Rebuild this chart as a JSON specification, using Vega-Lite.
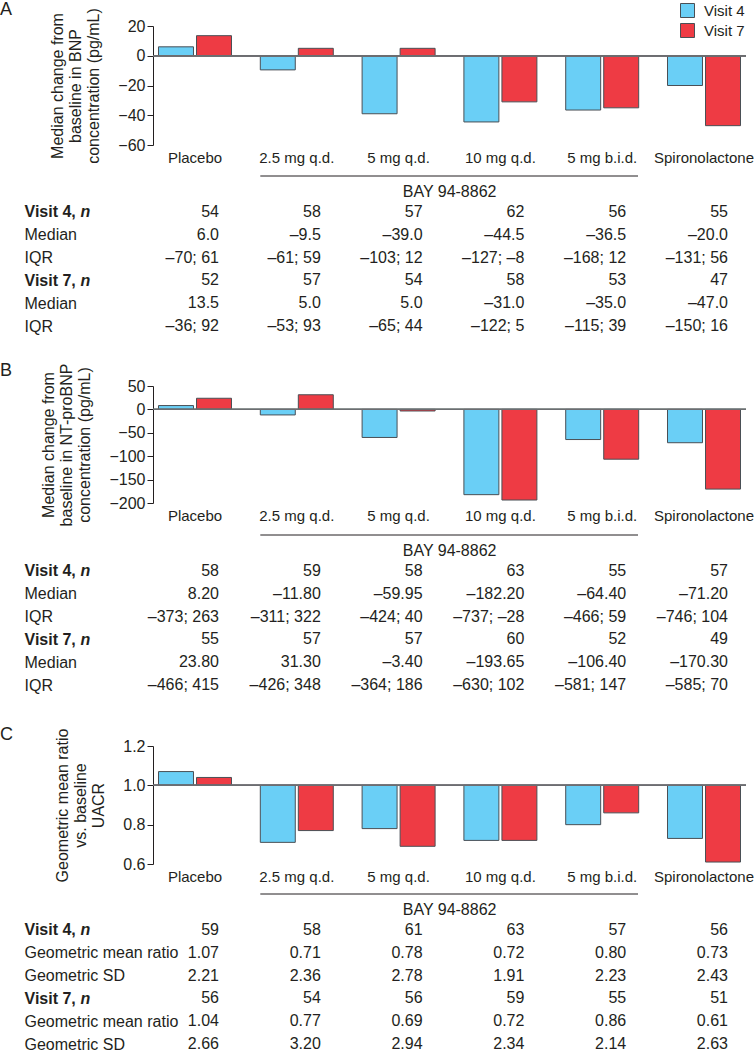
{
  "$schema": "https://vega.github.io/schema/vega-lite/v6.json",
  "padding": {"left": 0, "top": 0, "right": 0, "bottom": 0},
  "config": {
    "font": "Liberation Sans",
    "view": {"stroke": null},
    "axis": {"labelColor": "#231f20", "titleColor": "#231f20", "labelFontSize": 16, "titleFontSize": 16, "titleFontWeight": "normal", "grid": false, "labelOverlap": false, "labelSeparation": 0},
    "axisQuantitative": {"labelOverlap": false},
    "axisY": {"labelOverlap": false},
    "text": {"color": "#231f20", "fontSize": 16},
    "title": {"color": "#231f20", "fontSize": 18, "fontWeight": "normal", "anchor": "start", "frame": "bounds"}
  },
  "spacing": 28,
  "vconcat": [
    {
      "title": {"text": "A", "dx": -24, "offset": -11},
      "bounds": "flush",
      "spacing": 44,
      "vconcat": [
        {
          "width": 593, "height": 119,
          "data": {"values": [
            {"group": "Placebo", "visit": "Visit 4", "value": 6.0},
            {"group": "2.5 mg q.d.", "visit": "Visit 4", "value": -9.5},
            {"group": "5 mg q.d.", "visit": "Visit 4", "value": -39.0},
            {"group": "10 mg q.d.", "visit": "Visit 4", "value": -44.5},
            {"group": "5 mg b.i.d.", "visit": "Visit 4", "value": -36.5},
            {"group": "Spironolactone", "visit": "Visit 4", "value": -20.0},
            {"group": "Placebo", "visit": "Visit 7", "value": 13.5},
            {"group": "2.5 mg q.d.", "visit": "Visit 7", "value": 5.0},
            {"group": "5 mg q.d.", "visit": "Visit 7", "value": 5.0},
            {"group": "10 mg q.d.", "visit": "Visit 7", "value": -31.0},
            {"group": "5 mg b.i.d.", "visit": "Visit 7", "value": -35.0},
            {"group": "Spironolactone", "visit": "Visit 7", "value": -47.0}
          ]},
          "layer": [
            {
              "mark": {"type": "bar", "stroke": "#4a4f55", "strokeWidth": 1},
              "encoding": {
                "x": {"field": "group", "type": "nominal", "scale": {"domain": ["Placebo", "2.5 mg q.d.", "5 mg q.d.", "10 mg q.d.", "5 mg b.i.d.", "Spironolactone"], "paddingInner": 0.283, "paddingOuter": 0.054},
                  "axis": {"title": null, "domain": false, "ticks": false, "tickSize": 0, "labelPadding": 5, "labelAngle": 0, "labelFontSize": 15}},
                "xOffset": {"field": "visit", "type": "nominal", "scale": {"paddingInner": 0.08}},
                "y": {"field": "value", "type": "quantitative", "scale": {"domain": [-60, 20], "nice": false},
                  "axis": {"title": ["Median change from", "baseline in BNP", "concentration (pg/mL)"], "values": [20, 0, -20, -40, -60], "labelOverlap": false, "labelSeparation": 0, "labelBound": false, "domainColor": "#231f20", "tickColor": "#231f20", "tickSize": 6, "labelPadding": 2, "titlePadding": 16, "titleLineHeight": 18}},
                "y2": {"datum": 0},
                "color": {"field": "visit", "type": "nominal", "scale": {"domain": ["Visit 4", "Visit 7"], "range": ["#6acff6", "#ee3b44"]},
                  "legend": {"orient": "none", "legendX": 527, "legendY": -23, "title": null, "symbolType": "square", "symbolSize": 196, "symbolStrokeColor": "#4a4f55", "symbolStrokeWidth": 1, "symbolOpacity": 1, "labelFontSize": 15, "labelColor": "#231f20", "rowPadding": 1, "labelOffset": 9}}
              }
            },
            {"mark": {"type": "rule", "color": "#6d6e71", "strokeWidth": 1}, "encoding": {"y": {"datum": 0, "type": "quantitative",
              "axis": {"title": ["Median change from", "baseline in BNP", "concentration (pg/mL)"], "values": [20, 0, -20, -40, -60], "labelOverlap": false, "labelSeparation": 0, "labelBound": false, "domainColor": "#231f20", "tickColor": "#231f20", "tickSize": 6, "labelPadding": 2, "titlePadding": 16, "titleLineHeight": 18}}}}
          ]
        },
        {
          "width": 593, "height": 137,
          "data": {"values": [
            {"row": "v4n", "c1": "54", "c2": "58", "c3": "57", "c4": "62", "c5": "56", "c6": "55"},
            {"row": "v4a", "c1": "6.0", "c2": "–9.5", "c3": "–39.0", "c4": "–44.5", "c5": "–36.5", "c6": "–20.0"},
            {"row": "v4b", "c1": "–70; 61", "c2": "–61; 59", "c3": "–103; 12", "c4": "–127; –8", "c5": "–168; 12", "c6": "–131; 56"},
            {"row": "v7n", "c1": "52", "c2": "57", "c3": "54", "c4": "58", "c5": "53", "c6": "47"},
            {"row": "v7a", "c1": "13.5", "c2": "5.0", "c3": "5.0", "c4": "–31.0", "c5": "–35.0", "c6": "–47.0"},
            {"row": "v7b", "c1": "–36; 92", "c2": "–53; 93", "c3": "–65; 44", "c4": "–122; 5", "c5": "–115; 39", "c6": "–150; 16"}
          ]},
          "resolve": {"axis": {"y": "independent"}},
          "layer": [
            {
              "transform": [{"fold": ["c1", "c2", "c3", "c4", "c5", "c6"], "as": ["col", "text"]}],
              "mark": {"type": "text", "align": "right", "dx": 24},
              "encoding": {
                "x": {"field": "col", "type": "nominal", "scale": {"domain": ["c1", "c2", "c3", "c4", "c5", "c6"], "paddingInner": 0.283, "paddingOuter": 0.054}, "axis": null},
                "y": {"field": "row", "type": "nominal", "scale": {"type": "point", "domain": ["bay", "v4n", "v4a", "v4b", "v7n", "v7a", "v7b"], "padding": 0},
                  "axis": {"title": null, "domain": false, "ticks": false, "tickSize": 0, "labelAlign": "left", "labelPadding": 129, "labelLimit": 300,
                    "labelExpr": "datum.value == 'v4n' ? 'Visit 4,' : datum.value == 'v7n' ? 'Visit 7,' : (datum.value == 'v4a' || datum.value == 'v7a') ? 'Median' : (datum.value == 'v4b' || datum.value == 'v7b') ? 'IQR' : ''",
                    "labelFontWeight": {"condition": {"test": "datum.value == 'v4n' || datum.value == 'v7n'", "value": "bold"}, "value": "normal"}}},
                "text": {"field": "text", "type": "nominal"}
              }
            },
            {
              "mark": {"type": "text", "opacity": 0},
              "encoding": {
                "y": {"field": "row", "type": "nominal",
                  "axis": {"orient": "left", "title": null, "domain": false, "ticks": false, "tickSize": 0, "labelAlign": "left", "labelPadding": 73, "labelFontWeight": "bold", "labelFontStyle": "italic",
                    "labelExpr": "(datum.value == 'v4n' || datum.value == 'v7n') ? 'n' : ''"}},
                "text": {"value": ""}
              }
            },
            {
              "data": {"values": [{"label": "BAY 94-8862"}]},
              "mark": {"type": "text", "dx": 51, "dy": 3},
              "encoding": {"x": {"datum": "c3", "type": "nominal"}, "y": {"datum": "bay", "type": "nominal", "axis": null}, "text": {"field": "label", "type": "nominal"}}
            },
            {
              "data": {"values": [{"label": "BAY 94-8862"}]},
              "mark": {"type": "rule", "color": "#231f20", "strokeWidth": 1, "yOffset": -13, "x2Offset": -66},
              "encoding": {"x": {"datum": "c2", "type": "nominal", "bandPosition": 0}, "x2": {"datum": "c6"}, "y": {"datum": "bay", "type": "nominal", "axis": null}}
            }
          ]
        }
      ]
    },
    {
      "spacing": 33,
      "vconcat": [
        {
          "title": {"text": "B", "dx": -24, "offset": -17},
          "bounds": "flush",
          "spacing": 45,
          "vconcat": [
            {
              "width": 593, "height": 117,
              "data": {"values": [
                {"group": "Placebo", "visit": "Visit 4", "value": 8.20},
                {"group": "2.5 mg q.d.", "visit": "Visit 4", "value": -11.80},
                {"group": "5 mg q.d.", "visit": "Visit 4", "value": -59.95},
                {"group": "10 mg q.d.", "visit": "Visit 4", "value": -182.20},
                {"group": "5 mg b.i.d.", "visit": "Visit 4", "value": -64.40},
                {"group": "Spironolactone", "visit": "Visit 4", "value": -71.20},
                {"group": "Placebo", "visit": "Visit 7", "value": 23.80},
                {"group": "2.5 mg q.d.", "visit": "Visit 7", "value": 31.30},
                {"group": "5 mg q.d.", "visit": "Visit 7", "value": -3.40},
                {"group": "10 mg q.d.", "visit": "Visit 7", "value": -193.65},
                {"group": "5 mg b.i.d.", "visit": "Visit 7", "value": -106.40},
                {"group": "Spironolactone", "visit": "Visit 7", "value": -170.30}
              ]},
              "layer": [
                {
                  "mark": {"type": "bar", "stroke": "#4a4f55", "strokeWidth": 1},
                  "encoding": {
                    "x": {"field": "group", "type": "nominal", "scale": {"domain": ["Placebo", "2.5 mg q.d.", "5 mg q.d.", "10 mg q.d.", "5 mg b.i.d.", "Spironolactone"], "paddingInner": 0.283, "paddingOuter": 0.054},
                      "axis": {"title": null, "domain": false, "ticks": false, "tickSize": 0, "labelPadding": 5, "labelAngle": 0, "labelFontSize": 15}},
                    "xOffset": {"field": "visit", "type": "nominal", "scale": {"paddingInner": 0.08}},
                    "y": {"field": "value", "type": "quantitative", "scale": {"domain": [-200, 50], "nice": false},
                      "axis": {"title": ["Median change from", "baseline in NT-proBNP", "concentration (pg/mL)"], "values": [50, 0, -50, -100, -150, -200], "labelOverlap": false, "labelSeparation": 0, "labelBound": false, "domainColor": "#231f20", "tickColor": "#231f20", "tickSize": 6, "labelPadding": 2, "titlePadding": 16, "titleLineHeight": 18}},
                    "y2": {"datum": 0},
                    "color": {"field": "visit", "type": "nominal", "scale": {"domain": ["Visit 4", "Visit 7"], "range": ["#6acff6", "#ee3b44"]}, "legend": null}
                  }
                },
                {"mark": {"type": "rule", "color": "#6d6e71", "strokeWidth": 1}, "encoding": {"y": {"datum": 0, "type": "quantitative",
                  "axis": {"title": ["Median change from", "baseline in NT-proBNP", "concentration (pg/mL)"], "values": [50, 0, -50, -100, -150, -200], "labelOverlap": false, "labelSeparation": 0, "labelBound": false, "domainColor": "#231f20", "tickColor": "#231f20", "tickSize": 6, "labelPadding": 2, "titlePadding": 16, "titleLineHeight": 18}}}}
              ]
            },
            {
              "width": 593, "height": 137,
              "data": {"values": [
                {"row": "v4n", "c1": "58", "c2": "59", "c3": "58", "c4": "63", "c5": "55", "c6": "57"},
                {"row": "v4a", "c1": "8.20", "c2": "–11.80", "c3": "–59.95", "c4": "–182.20", "c5": "–64.40", "c6": "–71.20"},
                {"row": "v4b", "c1": "–373; 263", "c2": "–311; 322", "c3": "–424; 40", "c4": "–737; –28", "c5": "–466; 59", "c6": "–746; 104"},
                {"row": "v7n", "c1": "55", "c2": "57", "c3": "57", "c4": "60", "c5": "52", "c6": "49"},
                {"row": "v7a", "c1": "23.80", "c2": "31.30", "c3": "–3.40", "c4": "–193.65", "c5": "–106.40", "c6": "–170.30"},
                {"row": "v7b", "c1": "–466; 415", "c2": "–426; 348", "c3": "–364; 186", "c4": "–630; 102", "c5": "–581; 147", "c6": "–585; 70"}
              ]},
              "resolve": {"axis": {"y": "independent"}},
              "layer": [
                {
                  "transform": [{"fold": ["c1", "c2", "c3", "c4", "c5", "c6"], "as": ["col", "text"]}],
                  "mark": {"type": "text", "align": "right", "dx": 24},
                  "encoding": {
                    "x": {"field": "col", "type": "nominal", "scale": {"domain": ["c1", "c2", "c3", "c4", "c5", "c6"], "paddingInner": 0.283, "paddingOuter": 0.054}, "axis": null},
                    "y": {"field": "row", "type": "nominal", "scale": {"type": "point", "domain": ["bay", "v4n", "v4a", "v4b", "v7n", "v7a", "v7b"], "padding": 0},
                      "axis": {"title": null, "domain": false, "ticks": false, "tickSize": 0, "labelAlign": "left", "labelPadding": 129, "labelLimit": 300,
                        "labelExpr": "datum.value == 'v4n' ? 'Visit 4,' : datum.value == 'v7n' ? 'Visit 7,' : (datum.value == 'v4a' || datum.value == 'v7a') ? 'Median' : (datum.value == 'v4b' || datum.value == 'v7b') ? 'IQR' : ''",
                        "labelFontWeight": {"condition": {"test": "datum.value == 'v4n' || datum.value == 'v7n'", "value": "bold"}, "value": "normal"}}},
                    "text": {"field": "text", "type": "nominal"}
                  }
                },
                {
                  "mark": {"type": "text", "opacity": 0},
                  "encoding": {
                    "y": {"field": "row", "type": "nominal",
                      "axis": {"orient": "left", "title": null, "domain": false, "ticks": false, "tickSize": 0, "labelAlign": "left", "labelPadding": 73, "labelFontWeight": "bold", "labelFontStyle": "italic",
                        "labelExpr": "(datum.value == 'v4n' || datum.value == 'v7n') ? 'n' : ''"}},
                    "text": {"value": ""}
                  }
                },
                {
                  "data": {"values": [{"label": "BAY 94-8862"}]},
                  "mark": {"type": "text", "dx": 51, "dy": 3},
                  "encoding": {"x": {"datum": "c3", "type": "nominal"}, "y": {"datum": "bay", "type": "nominal", "axis": null}, "text": {"field": "label", "type": "nominal"}}
                },
                {
                  "data": {"values": [{"label": "BAY 94-8862"}]},
                  "mark": {"type": "rule", "color": "#231f20", "strokeWidth": 1, "yOffset": -13, "x2Offset": -66},
                  "encoding": {"x": {"datum": "c2", "type": "nominal", "bandPosition": 0}, "x2": {"datum": "c6"}, "y": {"datum": "bay", "type": "nominal", "axis": null}}
                }
              ]
            }
          ]
        },
        {
          "title": {"text": "C", "dx": -24, "offset": -16},
          "bounds": "flush",
          "spacing": 43,
          "vconcat": [
            {
              "width": 593, "height": 118,
              "data": {"values": [
                {"group": "Placebo", "visit": "Visit 4", "value": 1.07},
                {"group": "2.5 mg q.d.", "visit": "Visit 4", "value": 0.71},
                {"group": "5 mg q.d.", "visit": "Visit 4", "value": 0.78},
                {"group": "10 mg q.d.", "visit": "Visit 4", "value": 0.72},
                {"group": "5 mg b.i.d.", "visit": "Visit 4", "value": 0.80},
                {"group": "Spironolactone", "visit": "Visit 4", "value": 0.73},
                {"group": "Placebo", "visit": "Visit 7", "value": 1.04},
                {"group": "2.5 mg q.d.", "visit": "Visit 7", "value": 0.77},
                {"group": "5 mg q.d.", "visit": "Visit 7", "value": 0.69},
                {"group": "10 mg q.d.", "visit": "Visit 7", "value": 0.72},
                {"group": "5 mg b.i.d.", "visit": "Visit 7", "value": 0.86},
                {"group": "Spironolactone", "visit": "Visit 7", "value": 0.61}
              ]},
              "layer": [
                {
                  "mark": {"type": "bar", "stroke": "#4a4f55", "strokeWidth": 1},
                  "encoding": {
                    "x": {"field": "group", "type": "nominal", "scale": {"domain": ["Placebo", "2.5 mg q.d.", "5 mg q.d.", "10 mg q.d.", "5 mg b.i.d.", "Spironolactone"], "paddingInner": 0.283, "paddingOuter": 0.054},
                      "axis": {"title": null, "domain": false, "ticks": false, "tickSize": 0, "labelPadding": 5, "labelAngle": 0, "labelFontSize": 15}},
                    "xOffset": {"field": "visit", "type": "nominal", "scale": {"paddingInner": 0.08}},
                    "y": {"field": "value", "type": "quantitative", "scale": {"domain": [0.6, 1.2], "nice": false, "zero": false},
                      "axis": {"title": ["Geometric mean ratio", "vs. baseline", "UACR"], "values": [1.2, 1.0, 0.8, 0.6], "format": ".1f", "labelOverlap": false, "labelSeparation": 0, "labelBound": false, "domainColor": "#231f20", "tickColor": "#231f20", "tickSize": 6, "labelPadding": 2, "titlePadding": 16, "titleLineHeight": 18}},
                    "y2": {"datum": 1},
                    "color": {"field": "visit", "type": "nominal", "scale": {"domain": ["Visit 4", "Visit 7"], "range": ["#6acff6", "#ee3b44"]}, "legend": null}
                  }
                },
                {"mark": {"type": "rule", "color": "#6d6e71", "strokeWidth": 1}, "encoding": {"y": {"datum": 1, "type": "quantitative",
                  "axis": {"title": ["Geometric mean ratio", "vs. baseline", "UACR"], "values": [1.2, 1.0, 0.8, 0.6], "format": ".1f", "labelOverlap": false, "labelSeparation": 0, "labelBound": false, "domainColor": "#231f20", "tickColor": "#231f20", "tickSize": 6, "labelPadding": 2, "titlePadding": 16, "titleLineHeight": 18}}}}
              ]
            },
            {
              "width": 593, "height": 137,
              "data": {"values": [
                {"row": "v4n", "c1": "59", "c2": "58", "c3": "61", "c4": "63", "c5": "57", "c6": "56"},
                {"row": "v4a", "c1": "1.07", "c2": "0.71", "c3": "0.78", "c4": "0.72", "c5": "0.80", "c6": "0.73"},
                {"row": "v4b", "c1": "2.21", "c2": "2.36", "c3": "2.78", "c4": "1.91", "c5": "2.23", "c6": "2.43"},
                {"row": "v7n", "c1": "56", "c2": "54", "c3": "56", "c4": "59", "c5": "55", "c6": "51"},
                {"row": "v7a", "c1": "1.04", "c2": "0.77", "c3": "0.69", "c4": "0.72", "c5": "0.86", "c6": "0.61"},
                {"row": "v7b", "c1": "2.66", "c2": "3.20", "c3": "2.94", "c4": "2.34", "c5": "2.14", "c6": "2.63"}
              ]},
              "resolve": {"axis": {"y": "independent"}},
              "layer": [
                {
                  "transform": [{"fold": ["c1", "c2", "c3", "c4", "c5", "c6"], "as": ["col", "text"]}],
                  "mark": {"type": "text", "align": "right", "dx": 24},
                  "encoding": {
                    "x": {"field": "col", "type": "nominal", "scale": {"domain": ["c1", "c2", "c3", "c4", "c5", "c6"], "paddingInner": 0.283, "paddingOuter": 0.054}, "axis": null},
                    "y": {"field": "row", "type": "nominal", "scale": {"type": "point", "domain": ["bay", "v4n", "v4a", "v4b", "v7n", "v7a", "v7b"], "padding": 0},
                      "axis": {"title": null, "domain": false, "ticks": false, "tickSize": 0, "labelAlign": "left", "labelPadding": 129, "labelLimit": 300,
                        "labelExpr": "datum.value == 'v4n' ? 'Visit 4,' : datum.value == 'v7n' ? 'Visit 7,' : (datum.value == 'v4a' || datum.value == 'v7a') ? 'Geometric mean ratio' : (datum.value == 'v4b' || datum.value == 'v7b') ? 'Geometric SD' : ''",
                        "labelFontWeight": {"condition": {"test": "datum.value == 'v4n' || datum.value == 'v7n'", "value": "bold"}, "value": "normal"}}},
                    "text": {"field": "text", "type": "nominal"}
                  }
                },
                {
                  "mark": {"type": "text", "opacity": 0},
                  "encoding": {
                    "y": {"field": "row", "type": "nominal",
                      "axis": {"orient": "left", "title": null, "domain": false, "ticks": false, "tickSize": 0, "labelAlign": "left", "labelPadding": 73, "labelFontWeight": "bold", "labelFontStyle": "italic",
                        "labelExpr": "(datum.value == 'v4n' || datum.value == 'v7n') ? 'n' : ''"}},
                    "text": {"value": ""}
                  }
                },
                {
                  "data": {"values": [{"label": "BAY 94-8862"}]},
                  "mark": {"type": "text", "dx": 51, "dy": 3},
                  "encoding": {"x": {"datum": "c3", "type": "nominal"}, "y": {"datum": "bay", "type": "nominal", "axis": null}, "text": {"field": "label", "type": "nominal"}}
                },
                {
                  "data": {"values": [{"label": "BAY 94-8862"}]},
                  "mark": {"type": "rule", "color": "#231f20", "strokeWidth": 1, "yOffset": -13, "x2Offset": -66},
                  "encoding": {"x": {"datum": "c2", "type": "nominal", "bandPosition": 0}, "x2": {"datum": "c6"}, "y": {"datum": "bay", "type": "nominal", "axis": null}}
                }
              ]
            }
          ]
        }
      ]
    }
  ]
}
